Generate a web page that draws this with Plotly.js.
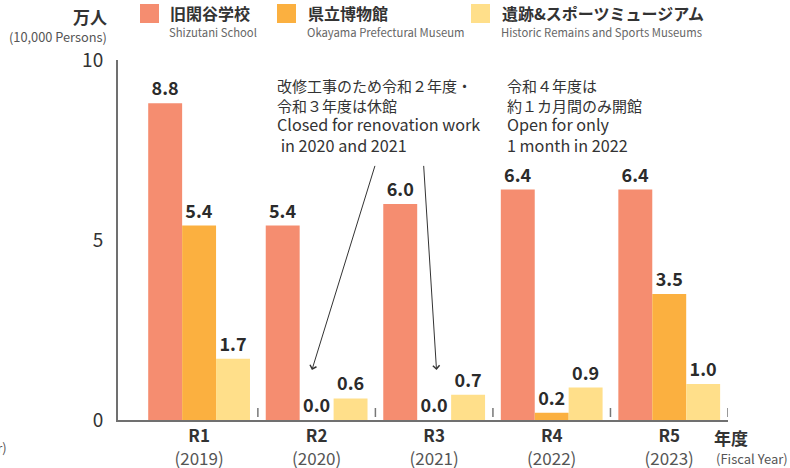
<!DOCTYPE html>
<html>
<head>
<meta charset="utf-8">
<script src="https://cdn.plot.ly/plotly-3.0.1.min.js"></script>
<style>
  html, body { margin: 0; padding: 0; background: #fff; }
  #chart { width: 790px; height: 468px; }
</style>
</head>
<body>
<div id="chart"></div>
<script>
// data
var periods = ['R1', 'R2', 'R3', 'R4', 'R5'];
var years = ['2019', '2020', '2021', '2022', '2023'];
var shizutani = [8.8, 5.4, 6.0, 6.4, 6.4];
var museum = [5.4, 0.0, 0.0, 0.2, 3.5];
var sports = [1.7, 0.6, 0.7, 0.9, 1.0];

var seriesNames = ['旧閑谷学校', '県立博物館', '遺跡&スポーツミュージアム'];
var seriesSubs = ['Shizutani School', 'Okayama Prefectural Museum', 'Historic Remains and Sports Museums'];
var colors = ['#F58D70', '#FBB040', '#FFDF8A'];

var FONT = '"Noto Sans CJK JP", "Noto Sans", sans-serif';

// plot box in pixels, used to place the hand-made legend and notes
var L = 118, R = 728, T = 60, B = 420;
function px(x) { return (x - L) / (R - L); }
function py(y) { return (B - y) / (B - T); }

var values = [shizutani, museum, sports];
var data = values.map(function (v, i) {
  return {
    type: 'bar',
    name: seriesNames[i],
    x: periods,
    y: v,
    marker: { color: colors[i] },
    texttemplate: '%{y:.1f}',
    textposition: 'outside',
    constraintext: 'none',
    cliponaxis: false,
    textfont: { family: FONT, size: 18, color: '#2b2b2b', weight: 'bold' },
    hoverinfo: 'x+y+name'
  };
});

var ticktext = periods.map(function (p, i) {
  return '<b>' + p + '</b><br><span style="font-size:17px;color:#555">(' + years[i] + ')</span>';
});

var shapes = [];
// small marks between year groups
for (var i = 0; i < periods.length; i++) {
  shapes.push({
    type: 'line', xref: 'x', yref: 'paper',
    x0: i + 0.5, x1: i + 0.5, y0: py(417), y1: py(408),
    line: { color: '#777', width: 1.5 }
  });
}

var annotations = [];
// legend drawn by hand (big squares, two-line names)
var sqX = [140, 277, 471];
var txX = [168, 306, 500];
for (var k = 0; k < 3; k++) {
  shapes.push({
    type: 'rect', xref: 'paper', yref: 'paper',
    x0: px(sqX[k]), x1: px(sqX[k] + 19), y0: py(23), y1: py(4),
    fillcolor: colors[k], line: { width: 0 }
  });
  annotations.push({
    xref: 'paper', yref: 'paper', x: px(txX[k]), y: py(13),
    xanchor: 'left', yanchor: 'middle', showarrow: false,
    text: '<b>' + seriesNames[k] + '</b>',
    font: { family: FONT, size: 16, color: '#333' }
  });
  annotations.push({
    xref: 'paper', yref: 'paper', x: px(txX[k] - 1), y: py(32),
    xanchor: 'left', yanchor: 'middle', showarrow: false,
    text: seriesSubs[k],
    font: { family: FONT, size: 11.3, color: '#666' }
  });
}

// axis titles
annotations.push(
  { xref: 'paper', yref: 'paper', x: px(109), y: py(17), xanchor: 'right', yanchor: 'middle',
    showarrow: false, text: '<b>万人</b>', font: { family: FONT, size: 17, color: '#333' } },
  { xref: 'paper', yref: 'paper', x: px(109), y: py(36), xanchor: 'right', yanchor: 'middle',
    showarrow: false, text: '(10,000 Persons)', font: { family: FONT, size: 12.8, color: '#555' } },
  { xref: 'paper', yref: 'paper', x: px(712), y: py(437), xanchor: 'left', yanchor: 'middle',
    showarrow: false, text: '<b>年度</b>', font: { family: FONT, size: 17, color: '#333' } },
  { xref: 'paper', yref: 'paper', x: px(714), y: py(458), xanchor: 'left', yanchor: 'middle',
    showarrow: false, text: '(Fiscal Year)', font: { family: FONT, size: 13, color: '#555' } },
  { xref: 'paper', yref: 'paper', x: px(9), y: py(447), xanchor: 'right', yanchor: 'middle',
    showarrow: false, text: '(Fiscal Year)', font: { family: FONT, size: 13, color: '#555' } }
);

// notes: japanese lines and english lines as separate blocks
var noteFont = { family: FONT, size: 15, color: '#333' };
var noteFontEn = { family: FONT, size: 16.2, color: '#333' };
annotations.push(
  { xref: 'paper', yref: 'paper', x: px(275), y: py(95), xanchor: 'left', yanchor: 'middle', align: 'left',
    showarrow: false, text: '改修工事のため令和２年度・<br>令和３年度は休館', font: noteFont },
  { xref: 'paper', yref: 'paper', x: px(275), y: py(134), xanchor: 'left', yanchor: 'middle', align: 'left',
    showarrow: false, text: 'Closed for renovation work<br> in 2020 and 2021', font: noteFontEn },
  { xref: 'paper', yref: 'paper', x: px(505), y: py(95), xanchor: 'left', yanchor: 'middle', align: 'left',
    showarrow: false, text: '令和４年度は<br>約１カ月間のみ開館', font: noteFont },
  { xref: 'paper', yref: 'paper', x: px(505), y: py(134), xanchor: 'left', yanchor: 'middle', align: 'left',
    showarrow: false, text: 'Open for only<br>1 month in 2022', font: noteFontEn },
  { xref: 'x', yref: 'y', axref: 'x', ayref: 'y', x: 0.96, y: 1.39, ax: 1.50, ay: 7.1,
    text: '', showarrow: true, arrowhead: 4, arrowsize: 1.3, arrowwidth: 1, arrowcolor: '#333', standoff: 0 },
  { xref: 'x', yref: 'y', axref: 'x', ayref: 'y', x: 2.02, y: 1.39, ax: 1.91, ay: 7.1,
    text: '', showarrow: true, arrowhead: 4, arrowsize: 1.3, arrowwidth: 1, arrowcolor: '#333', standoff: 0 }
);

var layout = {
  width: 790, height: 468,
  margin: { l: L, r: 790 - R, t: T, b: 468 - B, pad: 0 },
  paper_bgcolor: '#fff', plot_bgcolor: '#fff',
  font: { family: FONT, color: '#333' },
  barmode: 'group', bargap: 0.134, bargroupgap: 0,
  showlegend: false,
  xaxis: {
    type: 'category', range: [-0.69, 4.5],
    tickvals: periods, ticktext: ticktext,
    tickfont: { family: FONT, size: 17, color: '#333' },
    ticks: '', showgrid: false, zeroline: false,
    showline: true, linecolor: '#707070', linewidth: 2,
    fixedrange: true
  },
  yaxis: {
    range: [0, 10], tickvals: [0, 5, 10],
    tickfont: { family: FONT, size: 19, color: '#333' },
    ticks: '', ticklabelstandoff: 9, showgrid: false, zeroline: false,
    showline: true, linecolor: '#707070', linewidth: 2,
    fixedrange: true
  },
  shapes: shapes,
  annotations: annotations
};

Plotly.newPlot('chart', data, layout, { displayModeBar: false, staticPlot: true });
</script>
</body>
</html>
